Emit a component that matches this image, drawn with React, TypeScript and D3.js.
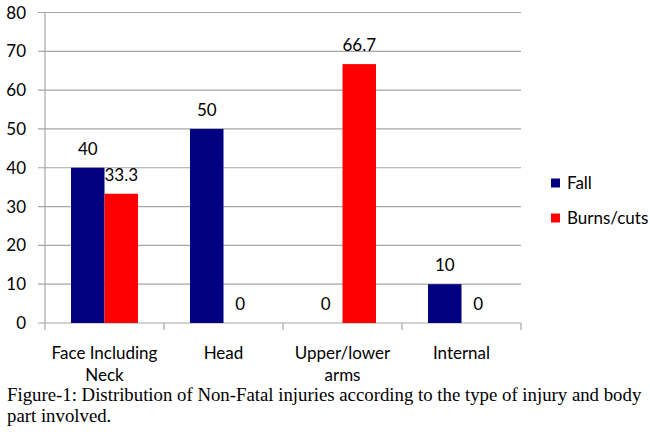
import React from "react";
import * as d3 from "d3";

const categories: string[][] = [["Face Including", "Neck"], ["Head"], ["Upper/lower", "arms"], ["Internal"]];
const categoryKeys = ["Face Including Neck", "Head", "Upper/lower arms", "Internal"];
const seriesNames = ["Fall", "Burns/cuts"];
const fallValues = [40, 50, 0, 10];
const burnsValues = [33.3, 0, 66.7, 0];
const seriesColors = ["#000080", "#ff0000"];
const yTicks = [0, 10, 20, 30, 40, 50, 60, 70, 80];
const captionLines = [
  "Figure-1: Distribution of Non-Fatal injuries according to the type of injury and body",
  "part involved.",
];

const W = 650;
const H = 432;
const left = 45;
const right = 521;
const top = 12.5;
const bottom = 323;
const font = "Lato, 'Open Sans', sans-serif";

export default function App() {
  const x = d3.scaleBand<string>().domain(categoryKeys).range([left, right]).paddingInner(0).paddingOuter(0);
  const x1 = d3.scaleBand<string>().domain(seriesNames).range([0, x.bandwidth()]).paddingInner(0).paddingOuter(0.776);
  const y = d3.scaleLinear().domain([0, 80]).range([bottom, top]);
  const seriesValues = [fallValues, burnsValues];
  const fmt = (v: number) => (Number.isInteger(v) ? String(v) : v.toFixed(1));

  return (
    <svg width={W} height={H} style={{ position: "absolute", left: 0, top: 0, background: "#fff" }}>
      <rect x={0} y={0} width={W} height={H} fill="#fff" />
      {yTicks.map((t) => (
        <g key={t}>
          <line x1={left - 7} x2={right} y1={y(t)} y2={y(t)} stroke="#a6a6a6" strokeWidth={1.2} />
          <text x={26} y={y(t)} dy="0.36em" textAnchor="end" fontFamily={font} fontSize={17} fill="#000">
            {t}
          </text>
        </g>
      ))}
      <line x1={left} x2={left} y1={top} y2={bottom} stroke="#a6a6a6" strokeWidth={1.2} />
      {[...categoryKeys.map((c) => x(c) as number), right].map((px, i) => (
        <line key={i} x1={px} x2={px} y1={bottom} y2={bottom + 7} stroke="#a6a6a6" strokeWidth={1.2} />
      ))}
      {categoryKeys.map((c, ci) =>
        seriesNames.map((s, si) => {
          const v = seriesValues[si][ci];
          const bx = (x(c) as number) + (x1(s) as number);
          const bw = x1.bandwidth();
          return (
            <g key={c + s}>
              {v > 0 && <rect x={bx} y={y(v)} width={bw} height={y(0) - y(v)} fill={seriesColors[si]} />}
              <text x={bx + bw / 2} y={y(v) - 13} textAnchor="middle" fontFamily={font} fontSize={17} fill="#000">
                {fmt(v)}
              </text>
            </g>
          );
        })
      )}
      {categoryKeys.map((c, ci) => (
        <text key={c} x={(x(c) as number) + x.bandwidth() / 2} y={359} textAnchor="middle" fontFamily={font} fontSize={17} fill="#000">
          {categories[ci].map((line, li) => (
            <tspan key={li} x={(x(c) as number) + x.bandwidth() / 2} y={359 + li * 22}>
              {line}
            </tspan>
          ))}
        </text>
      ))}
      {seriesNames.map((s, i) => (
        <g key={s}>
          <rect x={551} y={178.5 + i * 35} width={9} height={9} fill={seriesColors[i]} />
          <text x={567} y={183 + i * 35} dy="0.36em" fontFamily={font} fontSize={17} fill="#000">
            {s}
          </text>
        </g>
      ))}
      {captionLines.map((l, i) => (
        <text key={i} x={7} y={401 + i * 21} fontFamily="'Liberation Serif', 'Times New Roman', serif" fontSize={18.8} fill="#000">
          {l}
        </text>
      ))}
    </svg>
  );
}
